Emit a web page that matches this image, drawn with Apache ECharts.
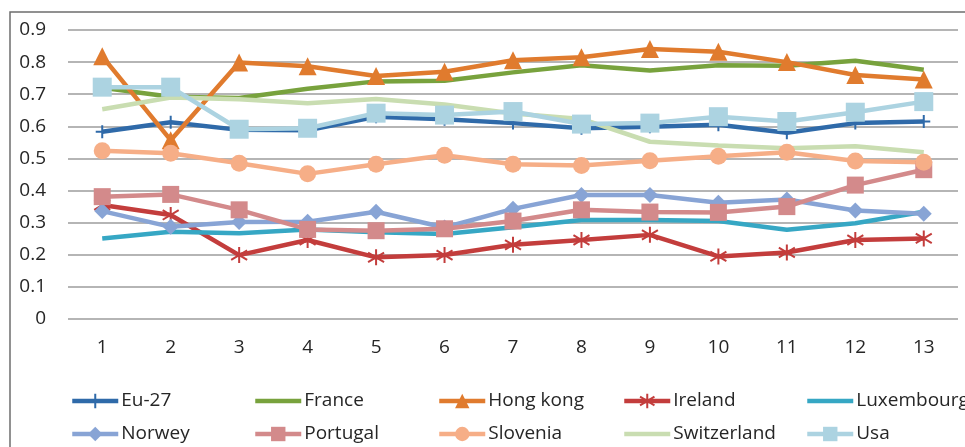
<!DOCTYPE html>
<html>
<head>
<meta charset="utf-8">
<script src="https://cdn.jsdelivr.net/npm/echarts@6/dist/echarts.min.js"></script>
<style>
  html, body { margin: 0; padding: 0; background: #fff; }
  #chart { width: 965px; height: 447px; }
</style>
</head>
<body>
<div id="chart"></div>
<script>
// Period index on the x axis
const categories = ['1','2','3','4','5','6','7','8','9','10','11','12','13'];
const yTicks = { min: 0, max: 0.9, step: 0.1 };

// Series values per period
const eu27        = [0.583, 0.613, 0.589, 0.588, 0.630, 0.622, 0.610, 0.594, 0.599, 0.605, 0.580, 0.610, 0.615];
const france      = [0.720, 0.692, 0.688, 0.717, 0.740, 0.742, 0.768, 0.790, 0.774, 0.790, 0.789, 0.804, 0.776];
const hongKong    = [0.818, 0.557, 0.799, 0.787, 0.757, 0.770, 0.806, 0.815, 0.841, 0.832, 0.800, 0.760, 0.746];
const ireland     = [0.355, 0.324, 0.199, 0.246, 0.192, 0.199, 0.231, 0.246, 0.262, 0.195, 0.207, 0.246, 0.251];
const luxembourg  = [0.251, 0.272, 0.267, 0.279, 0.270, 0.265, 0.286, 0.308, 0.308, 0.305, 0.278, 0.298, 0.334];
const norwey      = [0.336, 0.287, 0.302, 0.303, 0.334, 0.285, 0.343, 0.386, 0.386, 0.362, 0.372, 0.338, 0.328];
const portugal    = [0.381, 0.388, 0.340, 0.279, 0.275, 0.281, 0.305, 0.340, 0.333, 0.332, 0.350, 0.417, 0.465];
const slovenia    = [0.524, 0.516, 0.485, 0.452, 0.482, 0.510, 0.482, 0.478, 0.493, 0.507, 0.519, 0.492, 0.488];
const switzerland = [0.653, 0.690, 0.684, 0.672, 0.685, 0.668, 0.640, 0.623, 0.552, 0.540, 0.532, 0.538, 0.519];
const usa         = [0.722, 0.722, 0.591, 0.594, 0.641, 0.635, 0.646, 0.607, 0.610, 0.630, 0.615, 0.644, 0.677];

const FONT = '"Open Sans", "Liberation Sans", sans-serif';
const TEXT = '#262626';

// Stroked marker outlines (plus sign and asterisk)
const PLUS = 'path://M5 0 L5 10 M0 5 L10 5';
const STAR = 'path://M5 0 L5 10 M0.6 2 L9.4 8 M0.6 8 L9.4 2';

const plainLines = ['France', 'Luxembourg', 'Switzerland'];

function makeSeries(name, data, color, symbol, size, stroked) {
  return {
    name: name,
    type: 'line',
    data: data,
    symbol: symbol || 'none',
    symbolSize: size || 0,
    showSymbol: !!symbol,
    lineStyle: { color: color, width: 4.5 },
    itemStyle: stroked
      ? { color: 'rgba(0,0,0,0)', borderColor: color, borderWidth: 2 }
      : { color: color, borderColor: color, borderWidth: 0 },
    emphasis: { disabled: true },
    animation: false
  };
}

const series = [
  makeSeries('Eu-27', eu27, '#2f6aa9', PLUS, 13, true),
  makeSeries('France', france, '#78a23d', null),
  makeSeries('Hong kong', hongKong, '#e07b2e', 'triangle', 18),
  makeSeries('Ireland', ireland, '#c33d3c', STAR, 16, true),
  makeSeries('Luxembourg', luxembourg, '#36a7c4', null),
  makeSeries('Norwey', norwey, '#88a4d5', 'diamond', 16),
  makeSeries('Portugal', portugal, '#d38a8b', 'rect', 17),
  makeSeries('Slovenia', slovenia, '#f6ae87', 'circle', 17),
  makeSeries('Switzerland', switzerland, '#c9ddb1', null),
  makeSeries('Usa', usa, '#acd3e1', 'rect', 19)
];

// Legend laid out in five columns of two rows
const legendColumns = [
  { left: 70,  names: ['Eu-27', 'Norwey'] },
  { left: 253, names: ['France', 'Portugal'] },
  { left: 437, names: ['Hong kong', 'Slovenia'] },
  { left: 622, names: ['Ireland', 'Switzerland'] },
  { left: 805, names: ['Luxembourg', 'Usa'] }
];
const legends = legendColumns.map(c => ({
  data: c.names.map(n => plainLines.includes(n)
    ? { name: n, itemStyle: { opacity: 0 } }
    : { name: n }),
  orient: 'vertical',
  left: c.left,
  top: 391,
  itemWidth: 46,
  itemHeight: 18,
  itemGap: 13,
  padding: 0,
  selectedMode: false,
  lineStyle: { width: 4.5 },
  textStyle: { fontFamily: FONT, fontSize: 19, color: TEXT, lineHeight: 20, padding: [0, 0, 0, -2] }
}));

const chart = echarts.init(document.getElementById('chart'), null, { renderer: 'canvas' });
chart.setOption({
  backgroundColor: '#ffffff',
  animation: false,
  graphic: [{
    type: 'rect',
    shape: { x: 10, y: 12, width: 1000, height: 500 },
    style: { fill: 'none', stroke: '#6e6e6e', lineWidth: 1.5 },
    silent: true,
    z: -1
  }],
  legend: legends,
  grid: { left: 68, right: 7, top: 30, bottom: 128 },
  xAxis: {
    type: 'category',
    data: categories,
    boundaryGap: true,
    axisLine: { show: false },
    axisTick: { show: false },
    axisLabel: { fontFamily: FONT, fontSize: 19, color: TEXT, margin: 19 }
  },
  yAxis: {
    type: 'value',
    min: yTicks.min,
    max: yTicks.max,
    interval: yTicks.step,
    axisLine: { show: false },
    axisTick: { show: false },
    axisLabel: {
      fontFamily: FONT, fontSize: 19, color: TEXT, margin: 22,
      formatter: v => (Math.round(v * 10) / 10).toString()
    },
    splitLine: { lineStyle: { color: '#9c9c9c', width: 1.5 } }
  },
  series: series
});
</script>
</body>
</html>
